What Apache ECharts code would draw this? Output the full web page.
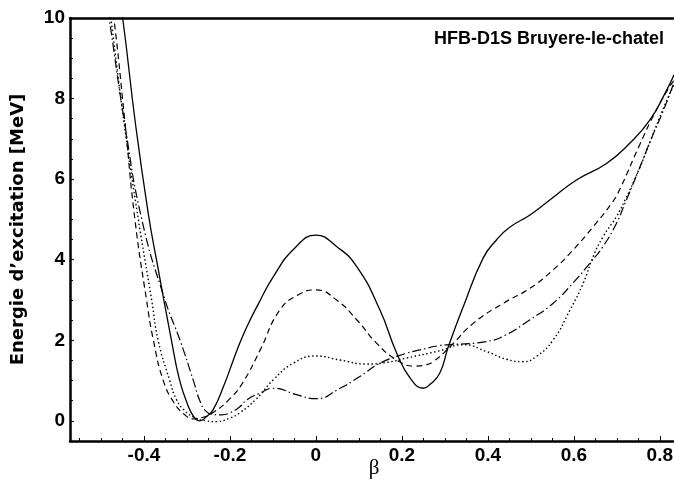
<!DOCTYPE html>
<html>
<head>
<meta charset="utf-8">
<script src="https://cdn.jsdelivr.net/npm/echarts@6/dist/echarts.min.js"></script>
<style>html,body{margin:0;padding:0;background:#fff;}#c{width:674px;height:484px;}</style>
</head>
<body>
<div id="c"></div>
<script>
// ---- data ----
var solidBeta  = [-0.46, -0.4495, -0.42, -0.39, -0.37, -0.336, -0.318, -0.30, -0.285, -0.27, -0.255, -0.239, -0.215, -0.192, -0.177, -0.16, -0.135, -0.099, -0.05, 0, 0.048, 0.095, 0.149, 0.188, 0.22, 0.25, 0.265, 0.288, 0.308, 0.343, 0.389, 0.42, 0.45, 0.498, 0.544, 0.606, 0.676, 0.73, 0.777, 0.816, 0.833];
var solidE     = [10.6, 10.0, 7.4, 5.15, 3.95, 2.0, 1.05, 0.45, 0.12, 0.0, 0.1, 0.28, 0.85, 1.51, 1.93, 2.35, 2.88, 3.58, 4.28, 4.61, 4.33, 3.83, 2.75, 1.68, 1.05, 0.81, 0.9, 1.18, 1.84, 2.84, 4.04, 4.49, 4.8, 5.11, 5.48, 5.98, 6.39, 6.89, 7.47, 8.21, 8.59];

var dashedBeta = [-0.48, -0.47, -0.445, -0.421, -0.394, -0.378, -0.355, -0.33, -0.305, -0.285, -0.265, -0.24, -0.2, -0.17, -0.13, -0.084, -0.041, 0, 0.048, 0.095, 0.141, 0.188, 0.23, 0.255, 0.273, 0.312, 0.366, 0.436, 0.498, 0.552, 0.598, 0.645, 0.688, 0.707, 0.753, 0.792, 0.823, 0.833];
var dashedE    = [10.6, 10.0, 7.5, 5.0, 3.0, 2.0, 1.0, 0.45, 0.15, 0.05, 0.08, 0.2, 0.55, 0.95, 1.75, 2.75, 3.13, 3.25, 3.0, 2.51, 1.93, 1.51, 1.36, 1.39, 1.47, 1.84, 2.42, 2.92, 3.29, 3.75, 4.24, 4.82, 5.4, 5.75, 6.85, 7.72, 8.3, 8.45];

var dottedBeta = [-0.485, -0.477, -0.445, -0.413, -0.382, -0.367, -0.34, -0.324, -0.305, -0.285, -0.255, -0.231, -0.2, -0.177, -0.138, -0.099, -0.053, 0, 0.056, 0.118, 0.164, 0.211, 0.288, 0.343, 0.397, 0.443, 0.482, 0.513, 0.552, 0.591, 0.622, 0.645, 0.668, 0.699, 0.719, 0.75, 0.78, 0.81, 0.833];
var dottedE    = [10.6, 10.0, 7.3, 5.0, 3.0, 2.0, 1.0, 0.52, 0.25, 0.1, 0.0, -0.02, 0.07, 0.2, 0.55, 1.02, 1.43, 1.61, 1.51, 1.41, 1.45, 1.56, 1.74, 1.89, 1.72, 1.53, 1.47, 1.6, 2.01, 2.75, 3.42, 4.08, 4.57, 5.07, 5.48, 6.2, 7.0, 7.8, 8.35];

var dashDotBeta = [-0.49, -0.481, -0.445, -0.405, -0.351, -0.316, -0.285, -0.27, -0.256, -0.24, -0.22, -0.2, -0.177, -0.161, -0.13, -0.099, -0.045, 0, 0.056, 0.102, 0.149, 0.211, 0.242, 0.288, 0.312, 0.397, 0.441, 0.498, 0.552, 0.598, 0.637, 0.668, 0.699, 0.719, 0.75, 0.78, 0.81, 0.833];
var dashDotE    = [10.6, 10.0, 7.4, 5.0, 3.0, 2.0, 1.0, 0.5, 0.24, 0.16, 0.15, 0.2, 0.35, 0.52, 0.69, 0.81, 0.65, 0.55, 0.81, 1.1, 1.43, 1.68, 1.76, 1.87, 1.89, 1.97, 2.13, 2.51, 2.92, 3.42, 3.91, 4.33, 4.9, 5.4, 6.2, 7.0, 7.75, 8.4];

var xTickLabels = [-0.4, -0.2, 0, 0.2, 0.4, 0.6, 0.8];
var xMinorTicks = [-0.55, -0.5, -0.45, -0.4, -0.35, -0.3, -0.25, -0.2, -0.15, -0.1, -0.05, 0, 0.05, 0.1, 0.15, 0.2, 0.25, 0.3, 0.35, 0.4, 0.45, 0.5, 0.55, 0.6, 0.65, 0.7, 0.75, 0.8];
var yTickLabels = [0, 2, 4, 6, 8, 10];
var yMinorTicks = [0, 0.5, 1, 1.5, 2, 2.5, 3, 3.5, 4, 4.5, 5, 5.5, 6, 6.5, 7, 7.5, 8, 8.5, 9, 9.5, 10];

var xTitle = 'β';
var yTitle = 'Energie d\u2019excitation [MeV]';
var annotation = 'HFB-D1S Bruyere-le-chatel';

// ---- chart ----
function zip(a, b) { return a.map(function (v, i) { return [v, b[i]]; }); }
var XMIN = -0.572, XMAX = 0.833, YMIN = -0.5, YMAX = 10;
var tickFont = "'Liberation Sans', Arial, sans-serif";
var black = '#000';
function fmt(v) { return String(+(+v).toFixed(1)); }

function lineSeries(name, data, type, width) {
  return {
    name: name, type: 'line', data: data, showSymbol: false, symbol: 'none',
    smooth: 0.5, clip: true, xAxisIndex: 0, yAxisIndex: 0,
    lineStyle: { color: black, width: width, type: type }
  };
}

var chart = echarts.init(document.getElementById('c'), null, { renderer: 'canvas' });
chart.setOption({
  backgroundColor: '#fff',
  animation: false,
  grid: { left: 70, right: 0, top: 18, bottom: 43, containLabel: false, outerBoundsMode: 'none' },
  xAxis: [
    {
      type: 'value', min: XMIN, max: XMAX, position: 'bottom',
      axisLine: { onZero: false, lineStyle: { color: black, width: 2.5 } },
      axisTick: { inside: true, length: 5, customValues: xTickLabels, lineStyle: { color: black, width: 1 } },
      axisLabel: { customValues: xTickLabels, formatter: fmt, color: black, fontFamily: tickFont, fontWeight: 'bold', fontSize: 19, margin: 5 },
      splitLine: { show: false },
      name: xTitle, nameLocation: 'middle', nameGap: 17, nameMoveOverlap: false,
      nameTextStyle: { fontFamily: "'Liberation Serif', serif", fontSize: 21, color: black, verticalAlign: 'top', padding: [0, 0, 0, 4] }
    },
    {
      type: 'value', min: XMIN, max: XMAX, position: 'bottom',
      axisLine: { show: false, onZero: false },
      axisTick: { inside: true, length: 3, customValues: xMinorTicks, lineStyle: { color: black, width: 1 } },
      axisLabel: { show: false }, splitLine: { show: false }
    },
    {
      type: 'value', min: XMIN, max: XMAX, position: 'top',
      axisLine: { onZero: false, lineStyle: { color: black, width: 2.5 } },
      axisTick: { show: false }, axisLabel: { show: false }, splitLine: { show: false }
    }
  ],
  yAxis: [
    {
      type: 'value', min: YMIN, max: YMAX, position: 'left',
      axisLine: { onZero: false, lineStyle: { color: black, width: 2.5 } },
      axisTick: { inside: true, length: 4, customValues: yTickLabels, lineStyle: { color: black, width: 1 } },
      axisLabel: { customValues: yTickLabels, formatter: fmt, color: black, fontFamily: tickFont, fontWeight: 'bold', fontSize: 19, margin: 5 },
      splitLine: { show: false },
      name: yTitle, nameLocation: 'middle', nameGap: 43, nameRotate: 90, nameMoveOverlap: false,
      nameTextStyle: { fontFamily: "'DejaVu Sans', sans-serif", fontWeight: 'bold', fontSize: 18, color: black }
    },
    {
      type: 'value', min: YMIN, max: YMAX, position: 'left',
      axisLine: { show: false, onZero: false },
      axisTick: { inside: true, length: 3, customValues: yMinorTicks, lineStyle: { color: black, width: 1 } },
      axisLabel: { show: false }, splitLine: { show: false }
    }
  ],
  graphic: [{
    type: 'text', right: 10, top: 30,
    style: { text: annotation, fill: black, font: "bold 18px 'Liberation Sans', Arial, sans-serif" }
  }],
  series: [
    lineSeries('solid', zip(solidBeta, solidE), 'solid', 1.3),
    lineSeries('dashed', zip(dashedBeta, dashedE), [6, 4], 1.2),
    lineSeries('dotted', zip(dottedBeta, dottedE), [1.5, 2.5], 1.4),
    lineSeries('dashdot', zip(dashDotBeta, dashDotE), [9, 3, 1.5, 3], 1.2)
  ]
});
</script>
</body>
</html>
